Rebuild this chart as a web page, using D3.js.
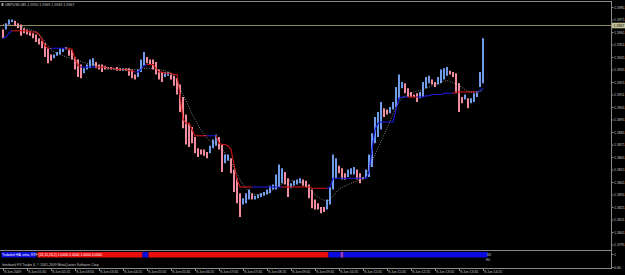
<!DOCTYPE html>
<html>
<head>
<meta charset="utf-8">
<script src="https://cdnjs.cloudflare.com/ajax/libs/d3/7.8.5/d3.min.js"></script>
<style>
  body { margin: 0; background: #000; overflow: hidden; }
  .chart text { font-family: "Liberation Sans", "DejaVu Sans", sans-serif; }
</style>
</head>
<body>
<div class="chart"></div>
<script>
// GBPUSD M5, Heiken Ashi style bars (one per 5 minutes, 01:05 -> 14:25)
const barOpen = [
  1.5963, 1.5963, 1.5967, 1.5969, 1.5970, 1.5968, 1.5967, 1.5964, 1.5963, 1.5962,
  1.5960, 1.5959, 1.5956, 1.5954, 1.5952, 1.5948, 1.5943, 1.5940, 1.5942, 1.5943,
  1.5945, 1.5947, 1.5947, 1.5947, 1.5941, 1.5939, 1.5935, 1.5928, 1.5931, 1.5932,
  1.5934, 1.5937, 1.5935, 1.5935, 1.5934, 1.5931, 1.5933, 1.5931, 1.5933, 1.5932,
  1.5930, 1.5932, 1.5932, 1.5931, 1.5927, 1.5925, 1.5929, 1.5934, 1.5941, 1.5939,
  1.5939, 1.5937, 1.5931, 1.5929, 1.5925, 1.5926, 1.5927, 1.5926, 1.5924, 1.5919,
  1.5909, 1.5895, 1.5888, 1.5885, 1.5877, 1.5868, 1.5867, 1.5867, 1.5865, 1.5864,
  1.5868, 1.5870, 1.5877, 1.5871, 1.5856, 1.5858, 1.5860, 1.5851, 1.5844, 1.5832,
  1.5823, 1.5824, 1.5827, 1.5832, 1.5827, 1.5828, 1.5829, 1.5830, 1.5831, 1.5832,
  1.5835, 1.5835, 1.5837, 1.5840, 1.5849, 1.5844, 1.5836, 1.5838, 1.5839, 1.5840,
  1.5843, 1.5842, 1.5839, 1.5835, 1.5827, 1.5824, 1.5821, 1.5821, 1.5819, 1.5823,
  1.5835, 1.5844, 1.5854, 1.5852, 1.5848, 1.5845, 1.5847, 1.5847, 1.5851, 1.5848,
  1.5845, 1.5844, 1.5845, 1.5853, 1.5872, 1.5877, 1.5883, 1.5900, 1.5899, 1.5896,
  1.5899, 1.5901, 1.5907, 1.5916, 1.5920, 1.5916, 1.5913, 1.5911, 1.5912, 1.5908,
  1.5909, 1.5916, 1.5920, 1.5923, 1.5921, 1.5919, 1.5920, 1.5923, 1.5926, 1.5930,
  1.5929, 1.5928, 1.5920, 1.5909, 1.5907, 1.5908, 1.5904, 1.5905, 1.5909, 1.5917,
  1.5920
]
const barClose = [
  1.5956, 1.5968, 1.5971, 1.5971, 1.5966, 1.5964, 1.5958, 1.5960, 1.5959, 1.5958,
  1.5956, 1.5953, 1.5951, 1.5948, 1.5941, 1.5936, 1.5938, 1.5943, 1.5945, 1.5948,
  1.5948, 1.5949, 1.5942, 1.5939, 1.5931, 1.5925, 1.5924, 1.5932, 1.5935, 1.5939,
  1.5940, 1.5932, 1.5931, 1.5929, 1.5931, 1.5933, 1.5931, 1.5932, 1.5930, 1.5930,
  1.5932, 1.5930, 1.5926, 1.5924, 1.5923, 1.5931, 1.5939, 1.5945, 1.5936, 1.5935,
  1.5931, 1.5927, 1.5923, 1.5921, 1.5929, 1.5929, 1.5923, 1.5918, 1.5911, 1.5897,
  1.5884, 1.5871, 1.5869, 1.5872, 1.5864, 1.5861, 1.5863, 1.5862, 1.5860, 1.5870,
  1.5875, 1.5879, 1.5867, 1.5849, 1.5863, 1.5863, 1.5848, 1.5833, 1.5824, 1.5813,
  1.5828, 1.5832, 1.5835, 1.5827, 1.5830, 1.5831, 1.5832, 1.5833, 1.5835, 1.5838,
  1.5839, 1.5847, 1.5855, 1.5852, 1.5839, 1.5829, 1.5840, 1.5842, 1.5843, 1.5844,
  1.5838, 1.5837, 1.5828, 1.5820, 1.5819, 1.5819, 1.5816, 1.5817, 1.5827, 1.5837,
  1.5863, 1.5860, 1.5848, 1.5843, 1.5843, 1.5851, 1.5852, 1.5853, 1.5843, 1.5840,
  1.5843, 1.5851, 1.5863, 1.5880, 1.5893, 1.5897, 1.5905, 1.5893, 1.5895, 1.5901,
  1.5905, 1.5917, 1.5927, 1.5921, 1.5912, 1.5909, 1.5909, 1.5909, 1.5905, 1.5913,
  1.5921, 1.5925, 1.5926, 1.5919, 1.5917, 1.5925, 1.5931, 1.5932, 1.5933, 1.5927,
  1.5925, 1.5912, 1.5897, 1.5904, 1.5911, 1.5900, 1.5908, 1.5912, 1.5913, 1.5929,
  1.5956
]

// stepped trend line, one value per bar
const trendValue = [
  1.5956, 1.5957, 1.5960, 1.5962, 1.5962, 1.5962, 1.5962, 1.5962, 1.5962, 1.5961,
  1.5961, 1.5961, 1.5959, 1.5955, 1.5950, 1.5948, 1.5948, 1.5948, 1.5948, 1.5948,
  1.5948, 1.5948, 1.5948, 1.5947, 1.5940, 1.5934, 1.5933, 1.5933, 1.5933, 1.5933,
  1.5933, 1.5933, 1.5933, 1.5933, 1.5933, 1.5932, 1.5932, 1.5932, 1.5931, 1.5931,
  1.5931, 1.5931, 1.5930, 1.5930, 1.5929, 1.5929, 1.5931, 1.5934, 1.5935, 1.5935,
  1.5935, 1.5932, 1.5929, 1.5929, 1.5928, 1.5928, 1.5928, 1.5927, 1.5927, 1.5911,
  1.5891, 1.5888, 1.5888, 1.5883, 1.5878, 1.5878, 1.5878, 1.5878, 1.5878, 1.5878,
  1.5878, 1.5878, 1.5872, 1.5871, 1.5871, 1.5870, 1.5867, 1.5855, 1.5843, 1.5837,
  1.5837, 1.5837, 1.5837, 1.5837, 1.5837, 1.5837, 1.5837, 1.5837, 1.5837, 1.5837,
  1.5837, 1.5837, 1.5837, 1.5837, 1.5837, 1.5837, 1.5837, 1.5837, 1.5837, 1.5837,
  1.5837, 1.5837, 1.5837, 1.5836, 1.5836, 1.5836, 1.5836, 1.5836, 1.5836, 1.5837,
  1.5844, 1.5844, 1.5844, 1.5844, 1.5844, 1.5844, 1.5844, 1.5844, 1.5844, 1.5844,
  1.5844, 1.5844, 1.5849, 1.5867, 1.5883, 1.5888, 1.5889, 1.5889, 1.5889, 1.5889,
  1.5889, 1.5899, 1.5908, 1.5909, 1.5909, 1.5909, 1.5909, 1.5909, 1.5909, 1.5909,
  1.5909, 1.5910, 1.5910, 1.5911, 1.5911, 1.5911, 1.5911, 1.5912, 1.5912, 1.5912,
  1.5912, 1.5913, 1.5913, 1.5913, 1.5913, 1.5913, 1.5913, 1.5913, 1.5913, 1.5914,
  1.5916
]
// bar index where the trend line changes colour
const trendTurnBar = [0, 4, 17, 22, 27, 32, 45, 49, 69, 72, 84, 94, 109, 136, 139, 151, 159]
const trendTurnDir = ["up", "down", "up", "down", "up", "down", "up", "down", "up", "down", "up", "down", "up", "down", "up", "down", "up"]

// dotted moving average, read every 4th bar
const maBar = [0, 4, 8, 12, 16, 20, 24, 28, 32, 36, 40, 44, 48, 52, 56, 60, 64, 68, 72, 76,
  80, 84, 88, 92, 96, 100, 104, 108, 112, 116, 120, 124, 128, 132, 136, 140, 144, 148, 152, 156, 160]
const maValue = [
  1.5967, 1.5966, 1.5964, 1.5959, 1.5947, 1.5942, 1.5939, 1.5936, 1.5934, 1.5932,
  1.5931, 1.5931, 1.5932, 1.5931, 1.5928, 1.5911, 1.5891, 1.5876, 1.5870, 1.5857,
  1.5839, 1.5831, 1.5832, 1.5838, 1.5842, 1.5840, 1.5831, 1.5826, 1.5835, 1.5840,
  1.5844, 1.5863, 1.5884, 1.5905, 1.5912, 1.5915, 1.5919, 1.5922, 1.5918, 1.5913,
  1.5914
]

// lower indicator strip
const stripFrom = [0, 12, 47, 49, 109, 113, 114]
const stripTo = [11, 46, 48, 108, 112, 113, 161]
const stripSignal = ["up", "down", "up", "down", "up", "flat", "up"]

const priceTicks = [1.5981, 1.5971, 1.5961, 1.5951, 1.5941, 1.5931, 1.5921, 1.5911, 1.5901, 1.5891,
  1.5881, 1.5871, 1.5861, 1.5851, 1.5841, 1.5831, 1.5821, 1.5811, 1.5801, 1.5791]
const timeTickBar = [0, 8, 16, 24, 32, 40, 48, 56, 64, 72, 80, 88, 96, 104, 112, 120, 128, 136, 144, 152, 160]
const timeLabels = ["8 Jun 2009", "8 Jun 01:45", "8 Jun 02:25", "8 Jun 03:05", "8 Jun 03:45", "8 Jun 04:25",
  "8 Jun 05:05", "8 Jun 05:45", "8 Jun 06:25", "8 Jun 07:05", "8 Jun 07:45", "8 Jun 08:25", "8 Jun 09:05",
  "8 Jun 09:45", "8 Jun 10:25", "8 Jun 11:05", "8 Jun 11:45", "8 Jun 12:25", "8 Jun 13:05", "8 Jun 13:45",
  "8 Jun 14:25"]
const bidPrice = 1.5967

const dimensions = {
  width: 625,
  height: 275,
  plotRight: 611,
  top: 1,
  mainBottom: 250,
  panelBottom: 268,
}

const colors = {
  up: "#6f9be8",
  down: "#f08c9e",
  lineUp: "#1a1ad2",
  lineDown: "#c81414",
  stripUp: "#0c0cde",
  stripDown: "#e80e0e",
  stripFlat: "#9a3cc8",
  frame: "#8a8a8a",
  text: "#c8c8c8",
  bid: "#8c8a58",
}

const wrapper = d3.select(".chart")
  .append("svg")
  .attr("width", dimensions.width)
  .attr("height", dimensions.height)

wrapper.append("rect")
  .attr("width", dimensions.width)
  .attr("height", dimensions.height)
  .attr("fill", "#000")

const xScale = d3.scaleLinear()
  .domain([0, 160])
  .range([3, 483])

const yScale = d3.scaleLinear()
  .domain([1.5791, 1.5981])
  .range([244.5, 7])

const panelScale = d3.scaleLinear()
  .domain([0, 1])
  .range([267, 254])

const barIdx = d3.range(barOpen.length)

// frame lines
const frame = wrapper.append("g")
  .attr("stroke", colors.frame)
  .attr("stroke-width", 1)
  .attr("shape-rendering", "crispEdges")
frame.append("line")
  .attr("x1", 0).attr("x2", dimensions.plotRight)
  .attr("y1", dimensions.top + 0.5).attr("y2", dimensions.top + 0.5)
frame.append("line")
  .attr("x1", 0).attr("x2", dimensions.plotRight)
  .attr("y1", dimensions.mainBottom + 0.5).attr("y2", dimensions.mainBottom + 0.5)
frame.append("line")
  .attr("x1", 0).attr("x2", dimensions.plotRight)
  .attr("y1", dimensions.panelBottom + 0.5).attr("y2", dimensions.panelBottom + 0.5)
frame.append("line")
  .attr("x1", dimensions.plotRight + 0.5).attr("x2", dimensions.plotRight + 0.5)
  .attr("y1", dimensions.top).attr("y2", dimensions.panelBottom + 1)

// bid line
const bidY = Math.round(yScale(bidPrice)) + 0.5
wrapper.append("line")
  .attr("x1", 0)
  .attr("x2", dimensions.plotRight)
  .attr("y1", bidY)
  .attr("y2", bidY)
  .attr("stroke", colors.bid)
  .attr("stroke-width", 1)

// bars
const bars = wrapper.append("g")
bars.selectAll("rect")
  .data(barIdx)
  .enter().append("rect")
  .attr("x", i => xScale(i) - 1)
  .attr("width", 2)
  .attr("y", i => yScale(Math.max(barOpen[i], barClose[i])))
  .attr("height", i => Math.max(1.2, Math.abs(yScale(barOpen[i]) - yScale(barClose[i]))))
  .attr("fill", i => barClose[i] >= barOpen[i] ? colors.up : colors.down)

// trend line, coloured segment by segment
const trendDir = i => trendTurnDir[d3.bisectRight(trendTurnBar, i) - 1]
const trend = wrapper.append("g")
trend.selectAll("line")
  .data(barIdx.slice(1))
  .enter().append("line")
  .attr("x1", i => xScale(i - 1))
  .attr("x2", i => xScale(i))
  .attr("y1", i => yScale(trendValue[i - 1]))
  .attr("y2", i => yScale(trendValue[i]))
  .attr("stroke", i => trendDir(i) === "up" ? colors.lineUp : colors.lineDown)
  .attr("stroke-width", 1.15)
  .attr("stroke-linecap", "round")

// moving average
const maLine = d3.line()
  .x((d, k) => xScale(maBar[k]))
  .y(d => yScale(d))
  .curve(d3.curveMonotoneX)
wrapper.append("path")
  .attr("d", maLine(maValue))
  .attr("fill", "none")
  .attr("stroke", "#c4c4c4")
  .attr("stroke-width", 0.8)
  .attr("stroke-dasharray", "0.8 1.6")

// y axis on the right
const yAxis = wrapper.append("g")
  .attr("transform", `translate(${dimensions.plotRight + 0.5}, 0)`)
  .call(d3.axisRight(yScale).tickValues(priceTicks).tickFormat(d3.format(".4f")).tickSize(2).tickPadding(0.5))
yAxis.select(".domain").remove()
yAxis.selectAll("line").attr("stroke", colors.frame)
yAxis.selectAll("text")
  .attr("fill", colors.text)
  .style("font-size", "3.5px")

// bid label
wrapper.append("rect")
  .attr("x", dimensions.plotRight + 1)
  .attr("y", bidY - 2.8)
  .attr("width", 13)
  .attr("height", 5.6)
  .attr("fill", "#c4c29a")
wrapper.append("text")
  .attr("x", dimensions.plotRight + 2.5)
  .attr("y", bidY + 1.3)
  .attr("fill", "#000")
  .style("font-size", "3.5px")
  .text(d3.format(".4f")(bidPrice))

// title
wrapper.append("rect")
  .attr("x", 1.5).attr("y", 3)
  .attr("width", 2).attr("height", 3)
  .attr("fill", "#9a9a9a")
wrapper.append("text")
  .attr("x", 5)
  .attr("y", 6)
  .attr("fill", colors.text)
  .style("font-size", "3.6px")
  .text("GBPUSD,M5  1.5950 1.5969 1.5949 1.5967")

// indicator strip
const stripColor = { up: colors.stripUp, down: colors.stripDown, flat: colors.stripFlat }
wrapper.append("g").selectAll("rect")
  .data(d3.range(stripFrom.length))
  .enter().append("rect")
  .attr("x", k => Math.max(0, xScale(stripFrom[k]) - 1.5))
  .attr("width", k => xScale(stripTo[k]) - xScale(stripFrom[k]) + (stripFrom[k] === 0 ? 1.5 : 3))
  .attr("y", panelScale(1) - 2)
  .attr("height", 5.5)
  .attr("fill", k => stripColor[stripSignal[k]])

wrapper.append("text")
  .attr("x", 2)
  .attr("y", 256)
  .attr("fill", "#ffffff")
  .style("font-size", "3.4px")
  .text("Trubokel HA .mtra, RTF (26,15,18,2) 1.0000 2.0000 1.0000 4.0000")

const panelAxis = wrapper.append("g")
  .attr("transform", `translate(${dimensions.plotRight + 0.5}, 0)`)
  .call(d3.axisRight(panelScale).tickValues([1, 0]).tickFormat(d => d === 1 ? "1" : "0.00").tickSize(2).tickPadding(0.5))
panelAxis.select(".domain").remove()
panelAxis.selectAll("line").attr("stroke", colors.frame)
panelAxis.selectAll("text")
  .attr("fill", colors.text)
  .style("font-size", "3.5px")

wrapper.append("text")
  .attr("x", 487)
  .attr("y", 256)
  .attr("fill", colors.text)
  .style("font-size", "3px")
  .text("M5")
wrapper.append("text")
  .attr("x", 486)
  .attr("y", 261)
  .attr("fill", colors.text)
  .style("font-size", "3px")
  .text("H/L")

wrapper.append("text")
  .attr("x", 2)
  .attr("y", 265.5)
  .attr("fill", colors.text)
  .style("font-size", "3.4px")
  .text("Interbank FX Trader 4, \u00a9 2001-2009 MetaQuotes Software Corp.")

// time axis
const xAxis = wrapper.append("g")
  .attr("transform", `translate(0, ${dimensions.panelBottom + 1})`)
  .call(d3.axisBottom(xScale).tickValues(timeTickBar).tickFormat((d, k) => timeLabels[k]).tickSize(2).tickPadding(1))
xAxis.select(".domain").remove()
xAxis.selectAll("line").attr("stroke", colors.frame)
xAxis.selectAll("text")
  .attr("fill", colors.text)
  .attr("text-anchor", "start")
  .attr("dx", "0.8")
  .attr("y", 1.2)
  .style("font-size", "3.4px")
</script>
</body>
</html>
